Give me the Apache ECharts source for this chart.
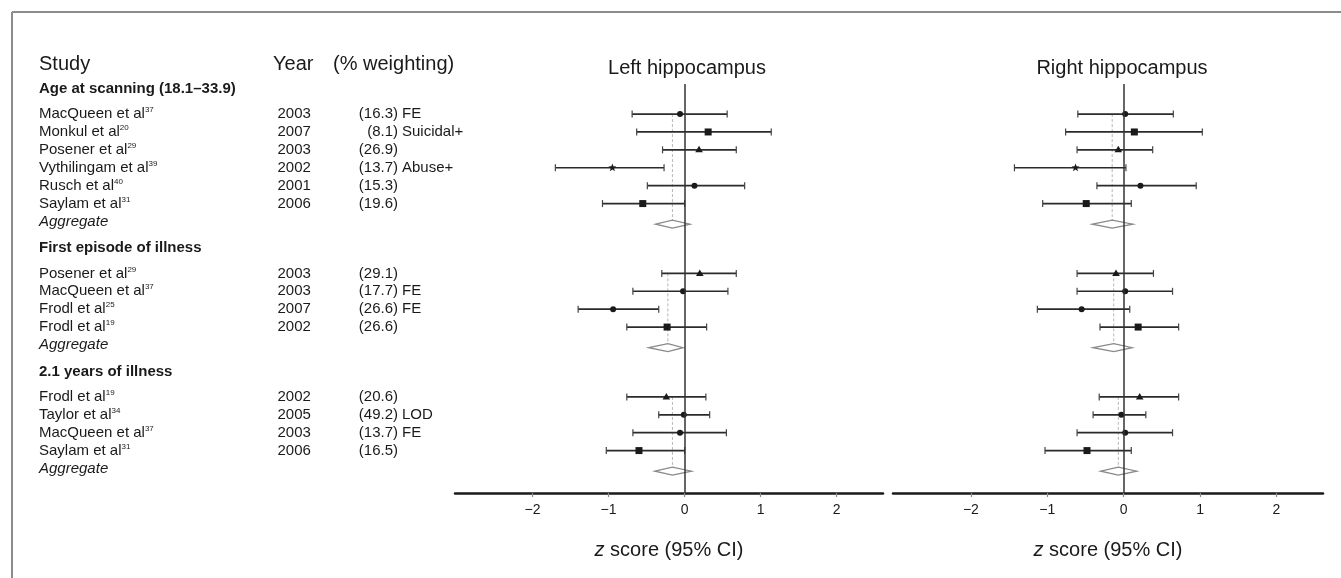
<!DOCTYPE html>
<html>
<head>
<meta charset="utf-8">
<script src="https://cdn.jsdelivr.net/npm/echarts@6/dist/echarts.min.js"></script>
<style>
  html, body { margin: 0; padding: 0; background: #fff; }
  #chart { width: 1341px; height: 578px; }
</style>
</head>
<body>
<div id="chart"></div>
<script>
const FONT = '"Liberation Sans", Arial, sans-serif';

// groups and studies (in table order)
const groupTitles = ['Age at scanning (18.1–33.9)', 'First episode of illness', '2.1 years of illness'];
const studyNames = ['MacQueen et al', 'Monkul et al', 'Posener et al', 'Vythilingam et al', 'Rusch et al', 'Saylam et al',
  'Posener et al', 'MacQueen et al', 'Frodl et al', 'Frodl et al',
  'Frodl et al', 'Taylor et al', 'MacQueen et al', 'Saylam et al'];
const studyRefs = ['37', '20', '29', '39', '40', '31', '29', '37', '25', '19', '19', '34', '37', '31'];
const studyYears = ['2003', '2007', '2003', '2002', '2001', '2006', '2003', '2003', '2007', '2002', '2002', '2005', '2003', '2006'];
const studyWeights = ['16.3', '8.1', '26.9', '13.7', '15.3', '19.6', '29.1', '17.7', '26.6', '26.6', '20.6', '49.2', '13.7', '16.5'];
const studyNotes = ['FE', 'Suicidal+', '', 'Abuse+', '', '', '', 'FE', 'FE', '', '', 'LOD', 'FE', ''];
const studyGroup = [0, 0, 0, 0, 0, 0, 1, 1, 1, 1, 2, 2, 2, 2];

// z scores, left hippocampus
const leftEst = [-0.06, 0.31, 0.19, -0.95, 0.13, -0.55, 0.20, -0.02, -0.94, -0.23, -0.24, -0.01, -0.06, -0.60];
const leftLo = [-0.69, -0.63, -0.29, -1.70, -0.49, -1.08, -0.30, -0.68, -1.40, -0.76, -0.76, -0.34, -0.68, -1.03];
const leftHi = [0.56, 1.14, 0.68, -0.27, 0.79, 0.00, 0.68, 0.57, -0.34, 0.29, 0.28, 0.33, 0.55, 0.00];
const leftAggEst = [-0.16, -0.22, -0.16];
const leftAggLo = [-0.38, -0.47, -0.39];
const leftAggHi = [0.07, -0.02, 0.09];

// z scores, right hippocampus
const rightEst = [0.02, 0.14, -0.07, -0.63, 0.22, -0.49, -0.10, 0.02, -0.55, 0.19, 0.21, -0.03, 0.02, -0.48];
const rightLo = [-0.60, -0.76, -0.61, -1.43, -0.35, -1.06, -0.61, -0.61, -1.13, -0.31, -0.32, -0.40, -0.61, -1.03];
const rightHi = [0.65, 1.03, 0.38, 0.03, 0.95, 0.10, 0.39, 0.64, 0.08, 0.72, 0.72, 0.29, 0.64, 0.10];
const rightAggEst = [-0.15, -0.13, -0.07];
const rightAggLo = [-0.41, -0.40, -0.30];
const rightAggHi = [0.12, 0.11, 0.17];

const tickValues = [-2, -1, 0, 1, 2];

// marker shape for each study row
const markerShapes = ['circle', 'square', 'triangle', 'star', 'circle', 'square',
  'triangle', 'circle', 'circle', 'square', 'triangle', 'circle', 'circle', 'square'];

// row positions in line units (0 = first group header)
const headPos = [], studyPos = [], aggPos = [];
let p = 0;
groupTitles.forEach((g, gi) => {
  headPos.push(p);
  p += 1.4;
  studyGroup.forEach((sg, i) => {
    if (sg === gi) { studyPos[i] = p; p += 1; }
  });
  aggPos.push(p);
  p += 1.5;
});
const firstRow = groupTitles.map((g, gi) => studyPos[studyGroup.indexOf(gi)]);

function markerEl(shape, x, y) {
  const st = { fill: '#1a1a1a' };
  if (shape === 'square') return { type: 'rect', shape: { x: x - 3.5, y: y - 3.5, width: 7, height: 7 }, style: st };
  if (shape === 'triangle') return { type: 'polygon', shape: { points: [[x, y - 4], [x + 3.8, y + 2.5], [x - 3.8, y + 2.5]] }, style: st };
  if (shape === 'star') {
    const pts = [];
    for (let k = 0; k < 10; k++) {
      const r = k % 2 ? 1.8 : 4.2;
      const a = -Math.PI / 2 + k * Math.PI / 5;
      pts.push([x + r * Math.cos(a), y + r * Math.sin(a)]);
    }
    return { type: 'polygon', shape: { points: pts }, style: st };
  }
  return { type: 'circle', shape: { cx: x, cy: y, r: 3 }, style: st };
}

function forestData(est, lo, hi, aggEst, aggLo, aggHi) {
  const rows = [];
  aggEst.forEach((e, g) => rows.push([e, aggPos[g] + 0.15, aggLo[g], aggHi[g], 1, firstRow[g]]));
  est.forEach((e, i) => rows.push([e, studyPos[i], lo[i], hi[i], 0, i]));
  return rows;
}

function renderForest(params, api) {
  const est = api.value(0), pos = api.value(1), lo = api.value(2), hi = api.value(3);
  const kind = api.value(4), extra = api.value(5);
  const pt = api.coord([est, pos]);
  const xe = pt[0], y = pt[1];
  const xl = api.coord([lo, pos])[0], xh = api.coord([hi, pos])[0];
  if (kind === 1) {
    const yTop = api.coord([est, extra])[1];
    return {
      type: 'group',
      children: [
        { type: 'line', z2: 1, shape: { x1: xe, y1: yTop, x2: xe, y2: y - 4 },
          style: { stroke: '#b5b5b5', lineWidth: 1, lineDash: [3, 2] } },
        { type: 'polygon', z2: 2, shape: { points: [[xl, y], [xe, y - 4], [xh, y], [xe, y + 4]] },
          style: { fill: 'none', stroke: '#8a8a8a', lineWidth: 1.3 } }
      ]
    };
  }
  return {
    type: 'group',
    children: [
      { type: 'line', z2: 5, shape: { x1: xl, y1: y, x2: xh, y2: y }, style: { stroke: '#2b2b2b', lineWidth: 1.7 } },
      { type: 'line', z2: 5, shape: { x1: xl, y1: y - 3.5, x2: xl, y2: y + 3.5 }, style: { stroke: '#444', lineWidth: 1.2 } },
      { type: 'line', z2: 5, shape: { x1: xh, y1: y - 3.5, x2: xh, y2: y + 3.5 }, style: { stroke: '#444', lineWidth: 1.2 } },
      Object.assign(markerEl(markerShapes[extra], xe, y), { z2: 6 })
    ]
  };
}

// table rows: [x, pos, kind, index]
const tableRows = [];
groupTitles.forEach((g, gi) => {
  tableRows.push([0, headPos[gi], 0, gi]);
  tableRows.push([0, aggPos[gi], 2, gi]);
});
studyNames.forEach((n, i) => tableRows.push([0, studyPos[i], 1, i]));

function renderTable(params, api) {
  const y = api.coord([0, api.value(1)])[1];
  const kind = api.value(2), i = api.value(3);
  const base = { fill: '#1a1a1a', verticalAlign: 'middle', fontFamily: FONT };
  if (kind === 0) {
    return { type: 'text', style: Object.assign({}, base, { x: 39, y: y, text: groupTitles[i], fontSize: 15, fontWeight: 'bold' }) };
  }
  if (kind === 2) {
    return { type: 'text', style: Object.assign({}, base, { x: 39, y: y, text: 'Aggregate', fontSize: 15, fontStyle: 'italic' }) };
  }
  const children = [
    { type: 'text', style: Object.assign({}, base, {
        x: 39, y: y, text: '{n|' + studyNames[i] + '}{s|' + studyRefs[i] + '}',
        rich: {
          n: { fontSize: 15, fontFamily: FONT, lineHeight: 16, fill: '#1a1a1a' },
          s: { fontSize: 8, fontFamily: FONT, verticalAlign: 'top', fill: '#1a1a1a' }
        }
      }) },
    { type: 'text', style: Object.assign({}, base, { x: 277.5, y: y, text: studyYears[i], fontSize: 15 }) },
    { type: 'text', style: Object.assign({}, base, { x: 398, y: y, text: '(' + studyWeights[i] + ')', fontSize: 15, align: 'right' }) }
  ];
  if (studyNotes[i]) {
    children.push({ type: 'text', style: Object.assign({}, base, { x: 402, y: y, text: studyNotes[i], fontSize: 15 }) });
  }
  return { type: 'group', children: children };
}

function xAxisFor(gridIndex) {
  return {
    type: 'value',
    gridIndex: gridIndex,
    min: -3.02,
    max: 2.61,
    splitLine: { show: false },
    axisLine: { show: true, onZero: false, lineStyle: { color: '#1a1a1a', width: 2.5 } },
    axisTick: { show: true, customValues: tickValues, length: 4, lineStyle: { color: '#888', width: 1.2 } },
    axisLabel: {
      customValues: tickValues, margin: 10, fontSize: 14, color: '#1a1a1a', fontFamily: FONT,
      formatter: v => String(v).replace('-', '\u2212')
    },
    name: '{i|z} score (95% CI)',
    nameLocation: 'middle',
    nameGap: 47,
    nameTextStyle: {
      fontSize: 20, color: '#1a1a1a', fontFamily: FONT,
      rich: { i: { fontSize: 20, fontStyle: 'italic', color: '#1a1a1a', fontFamily: FONT } }
    }
  };
}

function yAxisFor(gridIndex) {
  return {
    type: 'value', gridIndex: gridIndex, inverse: true, min: -0.28, max: 22.57,
    show: false
  };
}

const zeroLine = {
  silent: true, symbol: 'none', label: { show: false },
  lineStyle: { color: '#333', type: 'solid', width: 1.5 },
  data: [{ xAxis: 0 }]
};

const chart = echarts.init(document.getElementById('chart'));
chart.setOption({
  animation: false,
  backgroundColor: '#fff',
  textStyle: { fontFamily: FONT },
  title: [
    { text: 'Left hippocampus', left: 682, top: 53, textAlign: 'center',
      textStyle: { fontSize: 20, fontWeight: 'normal', color: '#1a1a1a', fontFamily: FONT } },
    { text: 'Right hippocampus', left: 1117, top: 53, textAlign: 'center',
      textStyle: { fontSize: 20, fontWeight: 'normal', color: '#1a1a1a', fontFamily: FONT } }
  ],
  graphic: [
    { type: 'line', shape: { x1: 12, y1: 12, x2: 1341, y2: 12 }, style: { stroke: '#8c8c8c', lineWidth: 2 } },
    { type: 'line', shape: { x1: 12, y1: 12, x2: 12, y2: 578 }, style: { stroke: '#8c8c8c', lineWidth: 2 } },
    { type: 'text', x: 39, y: 64, style: { text: 'Study', fontSize: 20, fontFamily: FONT, fill: '#1a1a1a', verticalAlign: 'middle' } },
    { type: 'text', x: 273, y: 64, style: { text: 'Year', fontSize: 20, fontFamily: FONT, fill: '#1a1a1a', verticalAlign: 'middle' } },
    { type: 'text', x: 333, y: 64, style: { text: '(% weighting)', fontSize: 20, fontFamily: FONT, fill: '#1a1a1a', verticalAlign: 'middle' } }
  ],
  grid: [
    { left: 455, width: 428, top: 84, height: 409 },
    { left: 893, width: 430, top: 84, height: 409 }
  ],
  xAxis: [xAxisFor(0), xAxisFor(1)],
  yAxis: [yAxisFor(0), yAxisFor(1)],
  series: [
    {
      type: 'custom', name: 'table', xAxisIndex: 0, yAxisIndex: 0, clip: false,
      encode: { x: 0, y: 1 },
      data: tableRows,
      renderItem: renderTable
    },
    {
      type: 'custom', name: 'Left hippocampus', xAxisIndex: 0, yAxisIndex: 0,
      encode: { x: 0, y: 1 },
      data: forestData(leftEst, leftLo, leftHi, leftAggEst, leftAggLo, leftAggHi),
      renderItem: renderForest,
      markLine: zeroLine
    },
    {
      type: 'custom', name: 'Right hippocampus', xAxisIndex: 1, yAxisIndex: 1,
      encode: { x: 0, y: 1 },
      data: forestData(rightEst, rightLo, rightHi, rightAggEst, rightAggLo, rightAggHi),
      renderItem: renderForest,
      markLine: zeroLine
    }
  ]
});
</script>
</body>
</html>
